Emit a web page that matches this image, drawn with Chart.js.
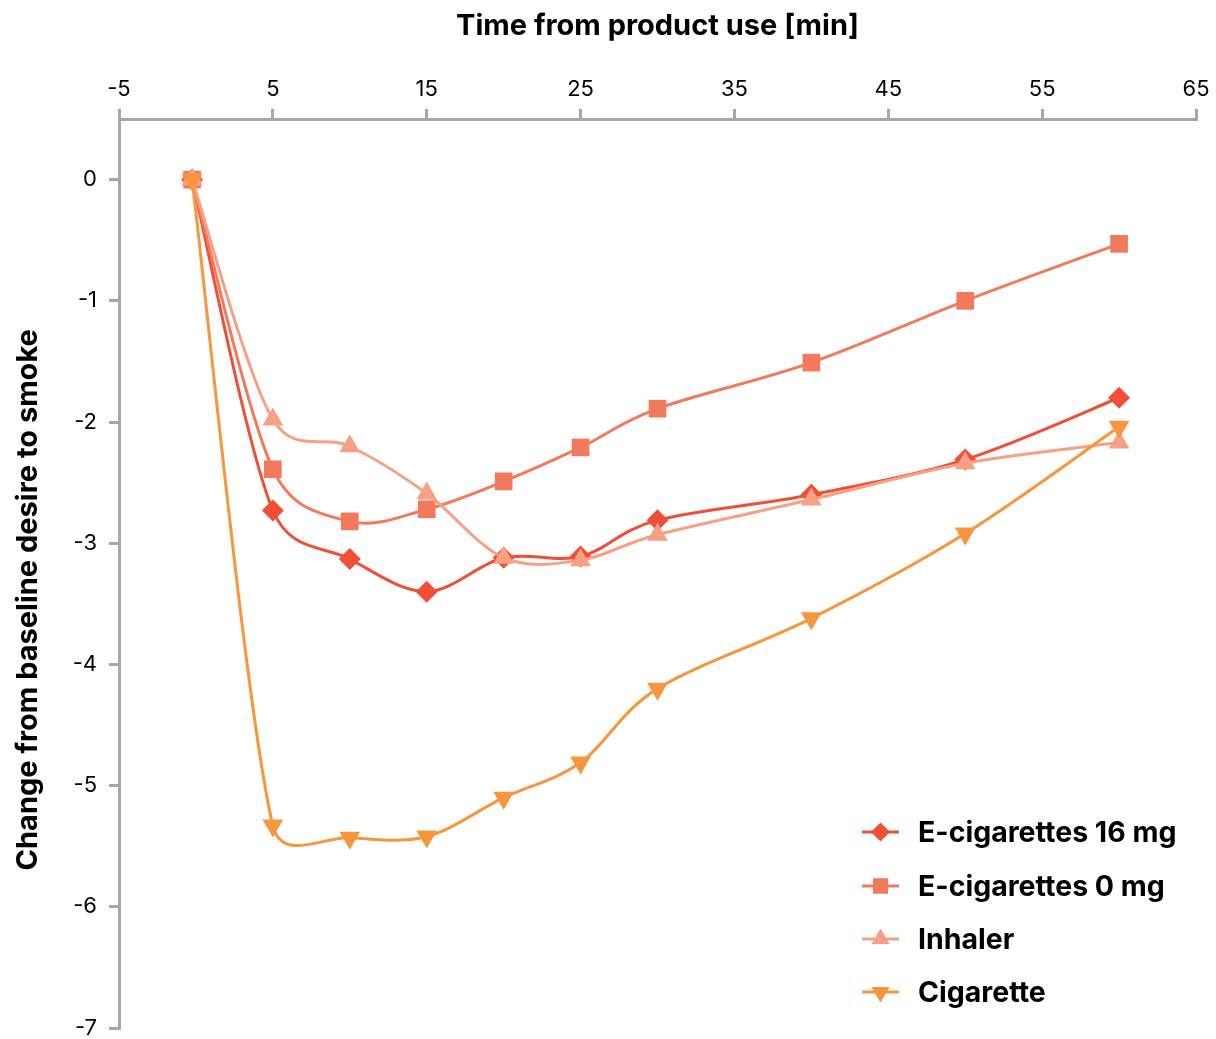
<!DOCTYPE html>
<html>
<head>
<meta charset="utf-8">
<script src="https://cdn.jsdelivr.net/npm/chart.js@4"></script>
<style>
  body { margin: 0; background: #fff; }
  canvas { display: block; }
</style>
</head>
<body>
<canvas id="chart" width="1216" height="1039"></canvas>
<script>
// Data
const times = [-0.25, 5, 10, 15, 20, 25, 30, 40, 50, 60];
const ecig16 = [0, -2.73, -3.13, -3.40, -3.12, -3.11, -2.81, -2.60, -2.31, -1.80];
const ecig0 = [0, -2.39, -2.82, -2.72, -2.49, -2.21, -1.89, -1.51, -1.00, -0.53];
const inhaler = [0, -1.98, -2.20, -2.59, -3.12, -3.14, -2.93, -2.64, -2.34, -2.17];
const cigarette = [0, -5.33, -5.43, -5.42, -5.10, -4.81, -4.20, -3.62, -2.92, -2.04];

const seriesNames = ['E-cigarettes 16 mg', 'E-cigarettes 0 mg', 'Inhaler', 'Cigarette'];
const xTicks = [-5, 5, 15, 25, 35, 45, 55, 65];
const yTicks = [-7, -6, -5, -4, -3, -2, -1, 0];

const xTitle = 'Time from product use [min]';
const yTitle = 'Change from baseline desire to smoke';

const axisColor = '#a7a7a9';
const fontFamily = 'Inter, "Liberation Sans", Arial, sans-serif';

function toPoints(values) {
    return values.map((v, i) => ({ x: times[i], y: v }));
}

function makeSet(label, values, color, style, radius, rotation, order) {
    return {
        label,
        data: toPoints(values),
        borderColor: color,
        backgroundColor: color,
        borderWidth: 3,
        pointStyle: style,
        pointRadius: radius,
        pointHoverRadius: radius,
        pointRotation: rotation,
        pointBorderWidth: 0,
        tension: 0.4,
        order
    };
}

const datasets = [
    makeSet(seriesNames[0], ecig16, '#ef4f36', 'rectRot', 11, 0, 4),
    makeSet(seriesNames[1], ecig0, '#f27a5c', 'rect', 12.5, 0, 3),
    makeSet(seriesNames[2], inhaler, '#f6a186', 'triangle', 12, 0, 2),
    makeSet(seriesNames[3], cigarette, '#f7963d', 'triangle', 12, 180, 1)
];

// spreadsheet-like smoothing: catmull-rom tangents, shortened next to short segments
const smoothing = {
    id: 'smoothing',
    beforeDatasetDraw(chart, args) {
        const pts = args.meta.data;
        const n = pts.length;
        for (let i = 0; i < n; i++) {
            const p = pts[i];
            const prev = pts[Math.max(i - 1, 0)];
            const next = pts[Math.min(i + 1, n - 1)];
            const vx = (next.x - prev.x) / 6;
            const vy = (next.y - prev.y) / 6;
            const len = Math.hypot(vx, vy) || 1;
            const d01 = Math.hypot(p.x - prev.x, p.y - prev.y);
            const d12 = Math.hypot(next.x - p.x, next.y - p.y);
            const s1 = Math.min(1, 0.5 * d01 / len);
            const s2 = Math.min(1, 0.5 * d12 / len);
            p.cp1x = p.x - vx * s1;
            p.cp1y = p.y - vy * s1;
            p.cp2x = p.x + vx * s2;
            p.cp2y = p.y + vy * s2;
        }
        args.meta.dataset._pointsUpdated = true;
    }
};

// legend with line + marker, bottom right of the plot
const lineLegend = {
    id: 'lineLegend',
    afterDraw(chart) {
        const ctx = chart.ctx;
        const rows = [832, 886, 939, 992];
        ctx.save();
        datasets.forEach((ds, i) => {
            const y = rows[i];
            ctx.strokeStyle = ds.borderColor;
            ctx.lineWidth = 3;
            ctx.beginPath();
            ctx.moveTo(862, y);
            ctx.lineTo(899, y);
            ctx.stroke();
            ctx.fillStyle = ds.backgroundColor;
            Chart.helpers.drawPoint(ctx, {
                pointStyle: ds.pointStyle,
                radius: ds.pointRadius * 0.85,
                rotation: ds.pointRotation,
                borderWidth: 0
            }, 880.5, y);
            ctx.fill();
            ctx.fillStyle = '#000';
            ctx.font = 'bold 28.5px ' + fontFamily;
            ctx.textBaseline = 'middle';
            ctx.textAlign = 'left';
            ctx.fillText(ds.label, 918, y + 1);
        });

        // y axis title, near the middle of the tick range
        const ys = chart.scales.y;
        const cy = (ys.getPixelForValue(yTicks[0]) + ys.getPixelForValue(yTicks[yTicks.length - 1])) / 2;
        ctx.translate(28, cy - 4);
        ctx.rotate(-Math.PI / 2);
        ctx.textAlign = 'center';
        ctx.font = 'bold 29px ' + fontFamily;
        ctx.fillText(yTitle, 0, 0);
        ctx.restore();
    }
};

new Chart(document.getElementById('chart'), {
    type: 'line',
    data: { datasets },
    options: {
        responsive: false,
        devicePixelRatio: 1,
        animation: false,
        layout: { autoPadding: false, padding: { top: 0, right: 20, bottom: 11, left: 0 } },
        plugins: {
            legend: { display: false },
            tooltip: { enabled: false }
        },
        scales: {
            x: {
                type: 'linear',
                position: 'top',
                min: -5,
                max: 65,
                afterBuildTicks: axis => { axis.ticks = xTicks.map(v => ({ value: v })); },
                afterFit: axis => {
                    axis.height = 119;
                    axis.paddingLeft = 0;
                    axis.paddingRight = 0;
                },
                ticks: {
                    color: '#000',
                    font: { family: fontFamily, size: 22 },
                    padding: 6,
                    maxRotation: 0
                },
                grid: { drawOnChartArea: false, drawTicks: true, tickLength: 10, color: axisColor, lineWidth: 3 },
                border: { display: true, color: axisColor, width: 3 },
                title: {
                    display: true,
                    text: xTitle,
                    color: '#000',
                    font: { family: fontFamily, size: 29, weight: 'bold' },
                    padding: { top: 9, bottom: 0 }
                }
            },
            y: {
                type: 'linear',
                min: -7,
                max: 0.5,
                afterBuildTicks: axis => { axis.ticks = yTicks.map(v => ({ value: v })); },
                afterFit: axis => {
                    axis.width = 119;
                    axis.paddingTop = 0;
                    axis.paddingBottom = 0;
                },
                ticks: {
                    color: '#000',
                    font: { family: fontFamily, size: 22 },
                    padding: 12
                },
                grid: { drawOnChartArea: false, drawTicks: true, tickLength: 10, color: axisColor, lineWidth: 3 },
                border: { display: true, color: axisColor, width: 3 }
            }
        }
    },
    plugins: [smoothing, lineLegend]
});
</script>
</body>
</html>
